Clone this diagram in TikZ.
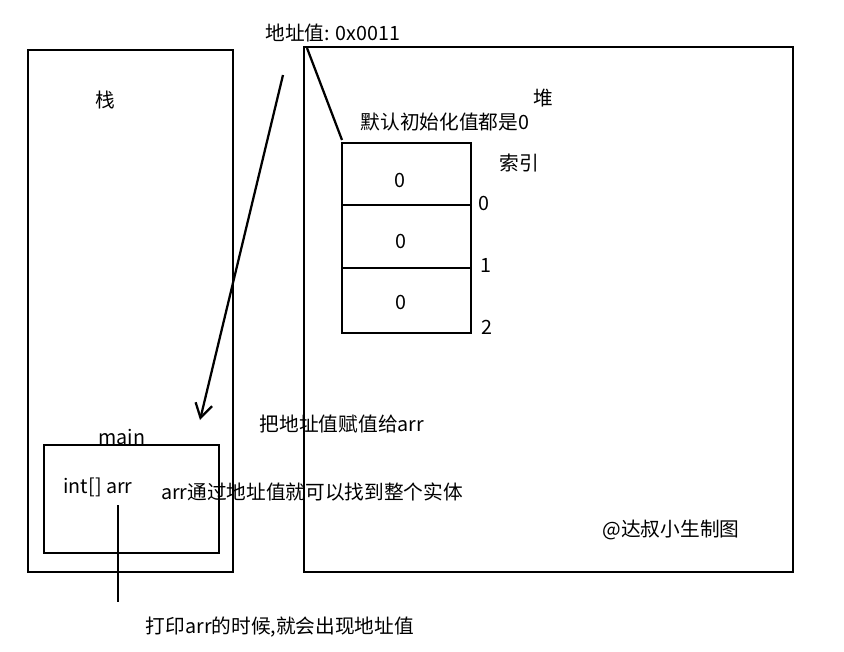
\documentclass[tikz,border=0pt]{standalone}
\usepackage{fontspec}
\setmainfont{Noto Sans CJK SC}
\usetikzlibrary{arrows.meta}

\begin{document}
\begin{tikzpicture}[x=0.025cm,y=-0.025cm,
    lbl/.style={font=\fontsize{14pt}{16pt}\selectfont,inner sep=1pt},
    box/.style={draw,line width=1.6pt}]
    \useasboundingbox (0,0) rectangle (844,652);
    % stack and heap
    \draw[box] (28,50) rectangle (233,572);
    \draw[box] (304,47) rectangle (793,572);
    \node[lbl] (stacklbl) at (105,100) {栈};
    \node[lbl] (heaplbl) at (543,98) {堆};
    % array cells
    \draw[box] (342,143) rectangle (471,333);
    \draw[box] (342,205) -- (471,205);
    \draw[box] (342,268) -- (471,268);
    \node[lbl] (v0) at (400,180) {0};
    \node[lbl] (v1) at (401,241) {0};
    \node[lbl] (v2) at (401,302) {0};
    \node[lbl] (i0) at (484,203) {0};
    \node[lbl] (i1) at (486,265) {1};
    \node[lbl] (i2) at (487,327) {2};
    \node[lbl] (idx) at (519,163) {索引};
    \node[lbl] (init) at (445,122) {默认初始化值都是0};
    \coordinate (arrtop) at (342,140);
    % address
    \node[lbl] (addr) at (333,33) {地址值: 0x0011};
    \coordinate (addrfoot) at (307,48);
    \draw[line width=1.6pt] (addrfoot) -- (arrtop);
    \coordinate (astart) at (283,75);
    \coordinate (aend) at (200,420);
    \draw[line width=1.6pt,-{Straight Barb[length=10pt,width=12pt]}] (astart) -- (aend);
    \node[lbl] (assign) at (342,424) {把地址值赋值给arr};
    % main frame
    \node[lbl] (mainlbl) at (122,437) {main};
    \draw[box] (44,445) rectangle (219,553);
    \node[lbl] (decl) at (98,487) {int[] arr};
    \node[lbl] (find) at (312,492) {arr通过地址值就可以找到整个实体};
    \coordinate (ptop) at (118,505);
    \coordinate (pbot) at (118,602);
    \draw[line width=1.6pt] (ptop) -- (pbot);
    \node[lbl] (print) at (280,627) {打印arr的时候,就会出现地址值};
    \node[lbl] (sign) at (671,530) {@达叔小生制图};
\end{tikzpicture}
\end{document}
